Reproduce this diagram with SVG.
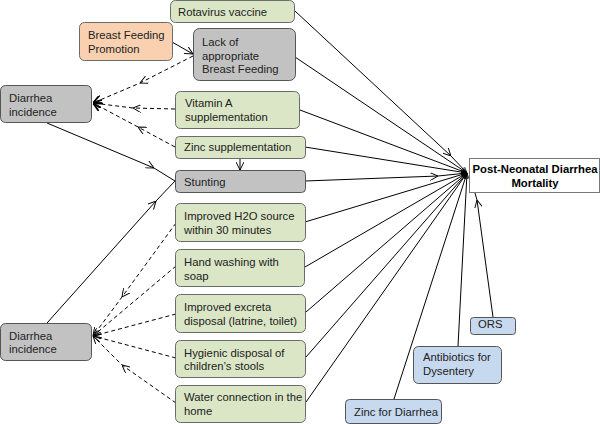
<svg xmlns="http://www.w3.org/2000/svg" width="600" height="424" viewBox="0 0 600 424">
<defs>
<marker id="a" viewBox="0 0 10 10" refX="10" refY="5" markerWidth="8" markerHeight="8" markerUnits="userSpaceOnUse" orient="auto"><path d="M0,0 L10,5 L0,10" fill="none" stroke="#000" stroke-width="1.2"/></marker>
<marker id="ab" viewBox="0 0 10 10" refX="10" refY="5" markerWidth="9" markerHeight="9" markerUnits="userSpaceOnUse" orient="auto"><path d="M0,0 L10,5 L0,10" fill="none" stroke="#000" stroke-width="2"/></marker>
<marker id="c" viewBox="0 0 10 10" refX="10" refY="5" markerWidth="6" markerHeight="6" markerUnits="userSpaceOnUse" orient="auto"><path d="M0,1 L10,5 L0,9" fill="none" stroke="#000" stroke-width="1.2"/></marker>
</defs>
<style>
.g{fill:#dbe6c6;stroke:#6b6b6b;stroke-width:1}
.y{fill:#c2c2c2;stroke:#555;stroke-width:1}
.o{fill:#f9d1b1;stroke:#6b6b6b;stroke-width:1}
.b{fill:#c7d9ef;stroke:#555;stroke-width:1}
text{font-family:"Liberation Sans",Arial,sans-serif;font-size:11.3px;fill:#222}
.s{fill:none;stroke:#000;stroke-width:1}
.d{fill:none;stroke:#000;stroke-width:1;stroke-dasharray:4,3}
</style>
<g id="connectors">
<path class="s" d="M295,11 L451,156 L467,173" marker-mid="url(#a)" marker-end="url(#c)"/>
<path class="s" d="M295,57 L467,173" marker-end="url(#c)"/>
<path class="s" d="M300,110 L467,173" marker-end="url(#c)"/>
<path class="s" d="M305,147 L467,173" marker-end="url(#c)"/>
<path class="s" d="M305,181 L438,176 L467,173" marker-mid="url(#a)" marker-end="url(#c)"/>
<path class="s" d="M305,222 L467,173" marker-end="url(#c)"/>
<path class="s" d="M305,267 L467,173" marker-end="url(#c)"/>
<path class="s" d="M306,312 L467,173" marker-end="url(#c)"/>
<path class="s" d="M306,357 L467,173" marker-end="url(#c)"/>
<path class="s" d="M306,402 L467,173" marker-end="url(#c)"/>
<path class="s" d="M394,399 L467,173" marker-end="url(#c)"/>
<path class="s" d="M458,346 L467,173" marker-end="url(#c)"/>
<path class="s" d="M493,317 L477,200 L475,193" marker-mid="url(#a)"/>
<path class="s" d="M172,42 L193,54" marker-end="url(#a)"/>
<path class="s" d="M240,158 L240,170" marker-end="url(#a)"/>
<path class="s" d="M47,123 L154,168 L175,181" marker-mid="url(#a)"/>
<path class="s" d="M47,323 L156,201 L175,181" marker-mid="url(#a)"/>
<path class="d" d="M193,56 L140,83 L93,103" marker-mid="url(#a)" marker-end="url(#ab)"/>
<path class="d" d="M175,109 L133,108 L93,103" marker-mid="url(#a)" marker-end="url(#ab)"/>
<path class="d" d="M175,147 L138,127 L93,103" marker-mid="url(#a)" marker-end="url(#ab)"/>
<path class="d" d="M176,223 L122,297 L93,336" marker-mid="url(#a)" marker-end="url(#a)"/>
<path class="d" d="M176,266 L93,336" marker-end="url(#a)"/>
<path class="d" d="M176,314 L93,336" marker-end="url(#a)"/>
<path class="d" d="M176,358 L93,336" marker-end="url(#a)"/>
<path class="d" d="M176,403 L122,365 L93,336" marker-mid="url(#a)" marker-end="url(#a)"/>
</g>
<g id="rotavirus"><rect class="g" x="170.5" y="0.5" width="124" height="22" rx="5"/><text x="178" y="16">Rotavirus vaccine</text></g>
<g id="bfpromotion"><rect class="o" x="79.5" y="22.5" width="93" height="38" rx="5"/><text x="88" y="39">Breast Feeding</text><text x="88" y="52.5">Promotion</text></g>
<g id="lackbf"><rect class="y" x="193.5" y="28.5" width="102" height="52" rx="6"/><text x="202" y="46">Lack of</text><text x="202" y="59.5">appropriate</text><text x="202" y="73">Breast Feeding</text></g>
<g id="diarrhea1"><rect class="y" x="0.5" y="85.5" width="91" height="37" rx="5"/><text x="9" y="102">Diarrhea</text><text x="9" y="115.5">incidence</text></g>
<g id="vitamina"><rect class="g" x="175.5" y="91.5" width="124" height="37" rx="5"/><text x="185" y="107">Vitamin A</text><text x="185" y="120.5">supplementation</text></g>
<g id="zincsupp"><rect class="g" x="175.5" y="136.5" width="130" height="22" rx="4"/><text x="184" y="151">Zinc supplementation</text></g>
<g id="stunting"><rect class="y" x="175.5" y="170.5" width="130" height="22" rx="4"/><text x="184" y="186">Stunting</text></g>
<g id="h2o"><rect class="g" x="175.5" y="203.5" width="130" height="38" rx="5"/><text x="184" y="220">Improved H2O source</text><text x="184" y="233.5">within 30 minutes</text></g>
<g id="handwash"><rect class="g" x="175.5" y="249.5" width="129" height="37" rx="5"/><text x="184" y="266">Hand washing with</text><text x="184" y="279.5">soap</text></g>
<g id="excreta"><rect class="g" x="175.5" y="294.5" width="130" height="38" rx="5"/><text x="184" y="311">Improved excreta</text><text x="184" y="324.5">disposal (latrine, toilet)</text></g>
<g id="hygienic"><rect class="g" x="175.5" y="340.5" width="130" height="37" rx="5"/><text x="184" y="357">Hygienic disposal of</text><text x="184" y="370">children’s stools</text></g>
<g id="waterconn"><rect class="g" x="175.5" y="385.5" width="130" height="37" rx="5"/><text x="184" y="401">Water connection in the</text><text x="184" y="414.5">home</text></g>
<g id="diarrhea2"><rect class="y" x="0.5" y="323.5" width="91" height="37" rx="5"/><text x="9" y="340">Diarrhea</text><text x="9" y="353">incidence</text></g>
<g id="mortality"><rect x="469.5" y="158.5" width="130" height="34" fill="#fff" stroke="#777"/><text x="535" y="173" text-anchor="middle" style="font-weight:bold;fill:#000">Post-Neonatal Diarrhea</text><text x="535" y="187" text-anchor="middle" style="font-weight:bold;fill:#000">Mortality</text></g>
<g id="ors"><rect class="b" x="470.5" y="317.5" width="45" height="17" rx="3"/><text x="478" y="328">ORS</text></g>
<g id="antibiotics"><rect class="b" x="413.5" y="346.5" width="88" height="37" rx="5"/><text x="423" y="361">Antibiotics for</text><text x="423" y="375">Dysentery</text></g>
<g id="zincdiarrhea"><rect class="b" x="345.5" y="399.5" width="96" height="24" rx="4"/><text x="354" y="416">Zinc for Diarrhea</text></g>
</svg>
